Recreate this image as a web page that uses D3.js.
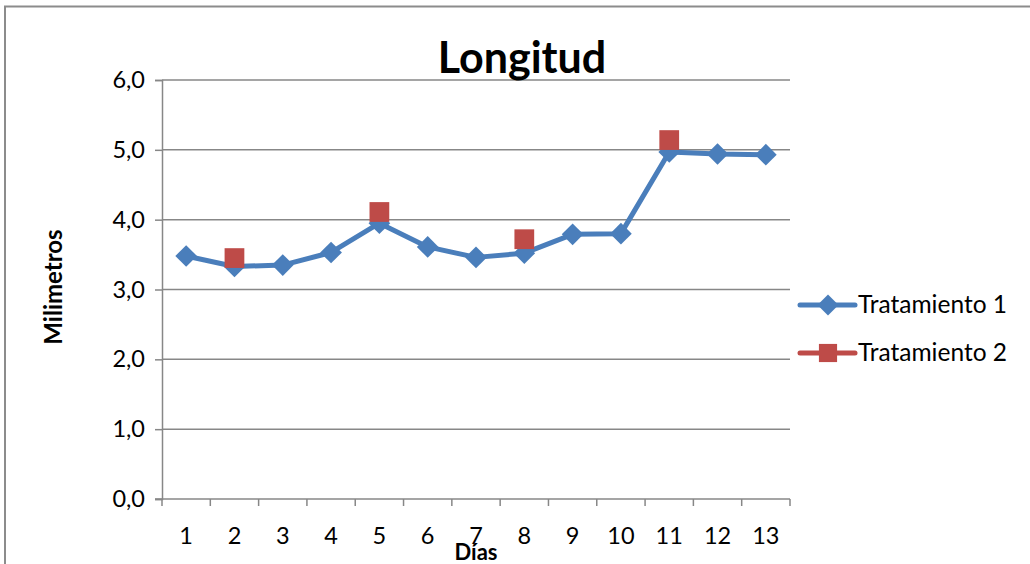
<!DOCTYPE html>
<html>
<head>
<meta charset="utf-8">
<script src="https://cdn.jsdelivr.net/npm/d3@7"></script>
<style>
  html, body { margin: 0; padding: 0; background: #fff; }
  svg { display: block; font-family: Lato, "Open Sans", sans-serif; }
</style>
</head>
<body>
<svg id="chart" width="1030" height="564"></svg>
<script>
// Días del ensayo y longitud medida (mm) por tratamiento
const dias = ["1","2","3","4","5","6","7","8","9","10","11","12","13"];
const tratamiento1 = [3.48, 3.33, 3.35, 3.53, 3.95, 3.61, 3.46, 3.52, 3.79, 3.80, 4.97, 4.94, 4.93];
const tratamiento2 = [null, 3.45, null, null, 4.11, null, null, 3.72, null, null, 5.14, null, null];
const yTicks = [0, 1, 2, 3, 4, 5, 6];
const seriesNames = ["Tratamiento 1", "Tratamiento 2"];

const blue = "#4a7ebb", red = "#be4b48", grid = "#878787";

const svg = d3.select("#chart");
const plot = { left: 162, right: 790, top: 80, bottom: 499 };

// Marco exterior del gráfico
svg.append("path")
  .attr("d", "M5,570 V6.5 H1040")
  .attr("fill", "none").attr("stroke", "#8c8c8c").attr("stroke-width", 2);

const x = d3.scaleBand().domain(dias).range([plot.left, plot.right]).paddingInner(0).paddingOuter(0);
const y = d3.scaleLinear().domain([0, 6]).range([plot.bottom, plot.top]);

// Líneas de división horizontales
svg.append("g").selectAll("line").data(yTicks.filter(d => d > 0)).join("line")
  .attr("x1", plot.left).attr("x2", plot.right)
  .attr("y1", d => y(d)).attr("y2", d => y(d))
  .attr("stroke", grid).attr("stroke-width", 1.5);

// Eje Y
const yAxis = svg.append("g").attr("transform", `translate(${plot.left},0)`)
  .call(d3.axisLeft(y).tickValues(yTicks).tickSize(7).tickPadding(10)
    .tickFormat(d => d3.format(".1f")(d).replace(".", ",")));
yAxis.select(".domain").attr("stroke", grid).attr("stroke-width", 1.5);
yAxis.selectAll(".tick line").attr("stroke", grid).attr("stroke-width", 1.5);
yAxis.selectAll(".tick text").attr("font-size", 23.5).attr("fill", "#000")
  .attr("font-family", "Lato, sans-serif");

// Eje X con marcas entre categorías
const xAxisG = svg.append("g").attr("transform", `translate(0,${plot.bottom})`);
xAxisG.append("line").attr("x1", plot.left - 7).attr("x2", plot.right)
  .attr("stroke", grid).attr("stroke-width", 1.5);
const boundaries = dias.map(d => x(d)).concat([x(dias[dias.length - 1]) + x.bandwidth()]);
xAxisG.selectAll("line.tk").data(boundaries).join("line").attr("class", "tk")
  .attr("x1", d => d).attr("x2", d => d).attr("y1", 0).attr("y2", 7)
  .attr("stroke", grid).attr("stroke-width", 1.5);
xAxisG.selectAll("text").data(dias).join("text")
  .attr("x", d => x(d) + x.bandwidth() / 2).attr("y", 45)
  .attr("text-anchor", "middle").attr("font-size", 23.5).attr("fill", "#000")
  .text(d => d);

// Títulos
svg.append("text").attr("x", 522).attr("y", 73).attr("text-anchor", "middle")
  .attr("font-size", 43).attr("font-weight", "bold").text("Longitud");
svg.append("text").attr("transform", "translate(62,287) rotate(-90)")
  .attr("text-anchor", "middle").attr("font-size", 24).attr("font-weight", "bold")
  .text("Milimetros");
svg.append("text").attr("x", 476).attr("y", 560).attr("text-anchor", "middle")
  .attr("font-size", 22).attr("font-weight", "bold").text("Días");

const cx = d => x(d) + x.bandwidth() / 2;
const diamond = d3.symbol().type(d3.symbolDiamond2).size(300);
const square = d3.symbol().type(d3.symbolSquare).size(390);

// Serie Tratamiento 1: línea con marcadores de rombo
const pts1 = dias.map((d, i) => [cx(d), y(tratamiento1[i])]);
svg.append("path").attr("d", d3.line()(pts1))
  .attr("fill", "none").attr("stroke", blue).attr("stroke-width", 5)
  .attr("stroke-linejoin", "round");
svg.append("g").selectAll("path").data(pts1).join("path")
  .attr("transform", p => `translate(${p[0]},${p[1]})`)
  .attr("d", diamond).attr("fill", blue);

// Serie Tratamiento 2: solo marcadores cuadrados
const pts2 = dias.map((d, i) => tratamiento2[i] == null ? null : [cx(d), y(tratamiento2[i])]).filter(p => p);
svg.append("g").selectAll("path").data(pts2).join("path")
  .attr("transform", p => `translate(${p[0]},${p[1]})`)
  .attr("d", square).attr("fill", red);

// Leyenda
const legend = svg.append("g");
const legY = [305, 353];
const colors = [blue, red];
const shapes = [d3.symbol().type(d3.symbolDiamond2).size(280), d3.symbol().type(d3.symbolSquare).size(330)];
seriesNames.forEach((name, i) => {
  legend.append("line").attr("x1", 800).attr("x2", 855).attr("y1", legY[i]).attr("y2", legY[i])
    .attr("stroke", colors[i]).attr("stroke-width", 5).attr("stroke-linecap", "round");
  legend.append("path").attr("transform", `translate(828,${legY[i]})`)
    .attr("d", shapes[i]).attr("fill", colors[i]);
  legend.append("text").attr("x", 858).attr("y", legY[i] + 8)
    .attr("font-size", 24.5).attr("fill", "#000").text(name);
});
</script>
</body>
</html>
